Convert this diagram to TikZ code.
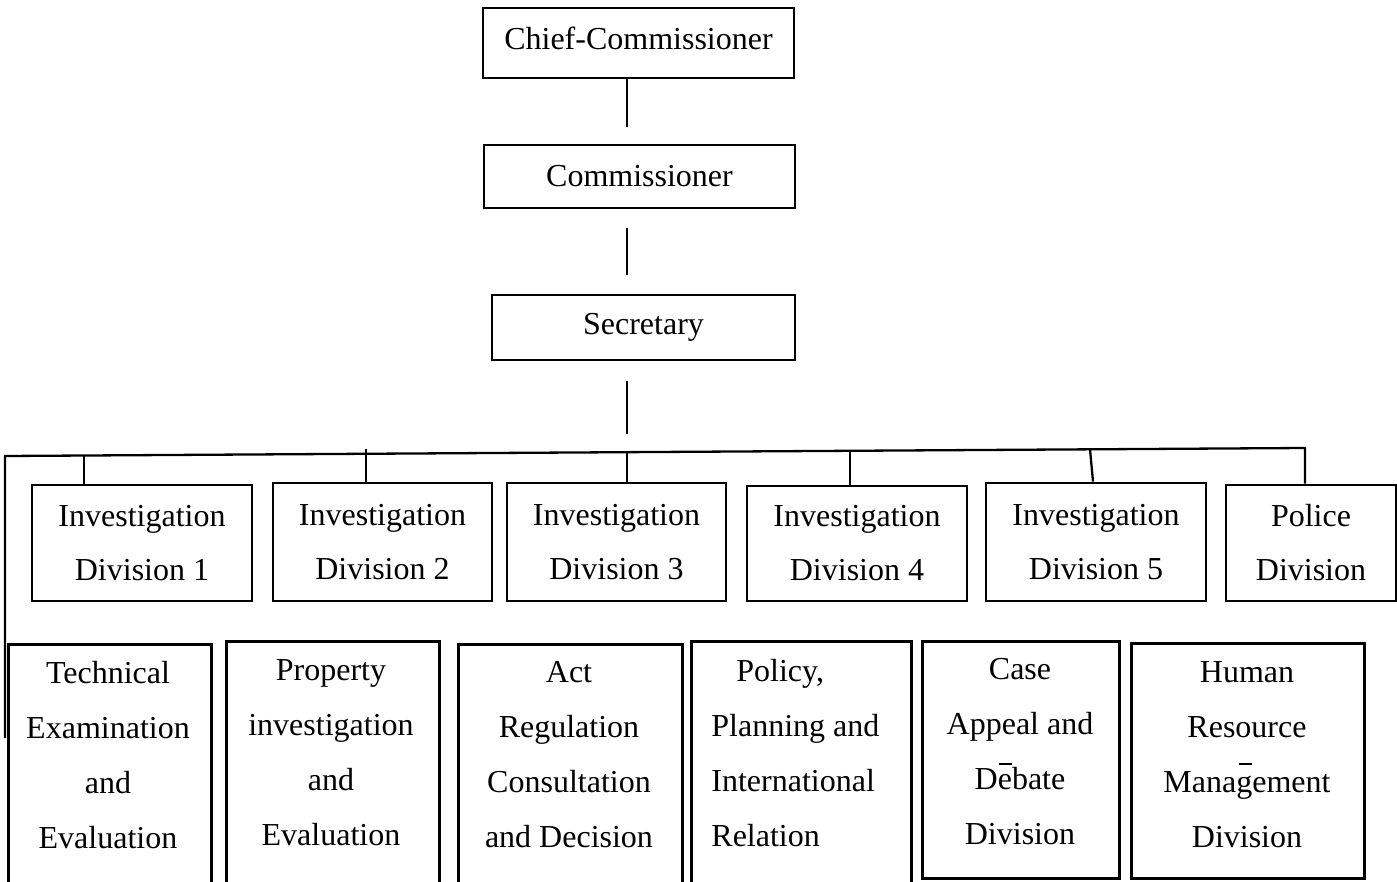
\documentclass[tikz,border=0pt]{standalone}
\usepackage{fontspec}
\setmainfont{Liberation Serif}
\begin{document}
\begin{tikzpicture}[x=0.5pt,y=-0.5pt,
  orgbox/.style={draw, line width=1.4pt, rectangle, inner sep=0pt, font=\fontsize{16}{27}\selectfont, align=center},
  txt/.style={inner sep=0pt, font=\fontsize{16}{27.5}\selectfont, align=center},
  link/.style={line width=1.15pt}]
\useasboundingbox (0,0) rectangle (1397,882);
\clip (0,0) rectangle (1397,882);

% top chain
\node[orgbox, minimum width=155.5pt, minimum height=35pt, text depth=5pt] (chief) at (638.5,43) {Chief-Commissioner};
\node[orgbox, minimum width=155.5pt, minimum height=31.5pt] (comm) at (639.5,176.5) {Commissioner};
\node[orgbox, minimum width=151.5pt, minimum height=32.5pt] (sec) at (643.5,327.5) {Secretary};

% second row
\node[orgbox, minimum width=110pt, minimum height=58pt] (inv1) at (142,543) {Investigation\\Division 1};
\node[orgbox, minimum width=109.5pt, minimum height=59pt] (inv2) at (382.5,542) {Investigation\\Division 2};
\node[orgbox, minimum width=109.5pt, minimum height=59pt] (inv3) at (616.5,542) {Investigation\\Division 3};
\node[orgbox, minimum width=110pt, minimum height=57.5pt] (inv4) at (857,543.5) {Investigation\\Division 4};
\node[orgbox, minimum width=110pt, minimum height=59pt] (inv5) at (1096,542) {Investigation\\Division 5};
\node[orgbox, minimum width=85pt, minimum height=58pt] (police) at (1311,543) {Police\\Division};

% third row boxes
\node[orgbox, anchor=north west, minimum width=101.5pt, minimum height=130pt] (tech) at (7,643) {};
\node[orgbox, anchor=north west, minimum width=106.5pt, minimum height=130pt] (prop) at (225,640) {};
\node[orgbox, anchor=north west, minimum width=112pt, minimum height=130pt] (act) at (457,643) {};
\node[orgbox, anchor=north west, minimum width=110pt, minimum height=130pt] (policy) at (690,640) {};
\node[orgbox, anchor=north west, minimum width=98.5pt, minimum height=118.5pt] (case) at (921,640) {};
\node[orgbox, anchor=north west, minimum width=116.5pt, minimum height=117.5pt] (hr) at (1130,642) {};

% third row texts
\node[txt] (techT) at (108,755) {Technical\\Examination\\and\\Evaluation};
\node[txt] (propT) at (331,753) {Property\\investigation\\and\\Evaluation};
\node[txt] (actT) at (569,755) {Act\\Regulation\\Consultation\\and Decision};
\node[txt, align=left, anchor=west] (policyT) at (711,753) {\hspace*{12.5pt}Policy,\\Planning and\\International\\Relation};
\node[txt] (caseT) at (1020,752) {Case\\Appeal and\\Debate\\Division};
\node[txt] (hrT) at (1247,754.5) {Human\\Resource\\Management\\Division};

% stray overline marks
\draw[line width=1pt] (999,764) -- (1012,764);
\draw[line width=1pt] (1239,764) -- (1252,764);

% connectors
\coordinate (spine) at (627,0);
\draw[link, shorten >=8.5pt] (spine |- chief.south) -- (spine |- comm.north);
\draw[link, shorten <=9.5pt, shorten >=9.5pt] (spine |- comm.south) -- (spine |- sec.north);
\coordinate (busL) at (5,456);
\coordinate (busR) at (1305,448);
\coordinate (busM) at (627,452.2);
\draw[link, shorten <=10pt, shorten >=9pt] (spine |- sec.south) -- (busM);
\coordinate (leftEnd) at (5,738);
\draw[link] (leftEnd) -- (busL) -- (busR) -- (busR |- police.north);
\coordinate (t1) at (84,455.5);
\coordinate (t2) at (366,449);
\coordinate (t4) at (850,450.8);
\coordinate (t5) at (1090,449.3);
\draw[link] (t1) -- (t1 |- inv1.north);
\draw[link] (t2) -- (t2 |- inv2.north);
\draw[link] (busM) -- (busM |- inv3.north);
\draw[link] (t4) -- (t4 |- inv4.north);
\draw[link] (t5) -- ([xshift=1.5pt]t5 |- inv5.north);
\end{tikzpicture}
\end{document}
